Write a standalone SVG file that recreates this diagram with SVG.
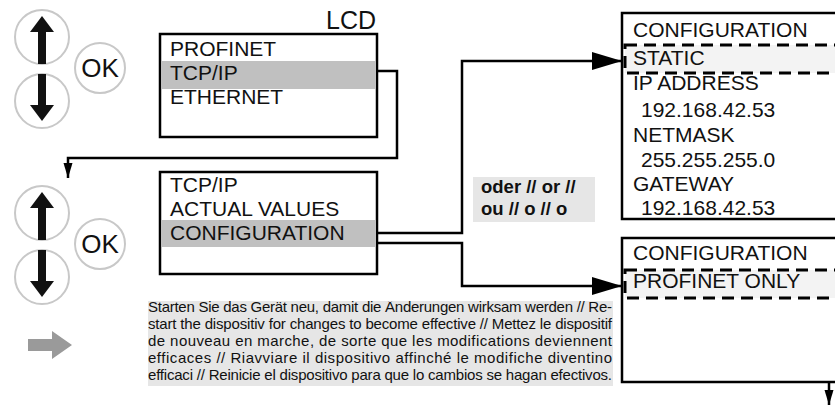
<svg xmlns="http://www.w3.org/2000/svg" width="835" height="405" viewBox="0 0 835 405">
<defs>
<style>
.btn{fill:#fff;stroke:#c8c8c8;stroke-width:2}
.box{fill:#fff;stroke:#000;stroke-width:2.5}
.hl{fill:#c0c0c0}
.dash{fill:#f3f3f3;stroke:#000;stroke-width:3;stroke-dasharray:12 7}
.t{font-family:"Liberation Sans",Arial,sans-serif;font-size:21px;fill:#111}
.ok{font-family:"Liberation Sans",Arial,sans-serif;font-size:26px;fill:#111;text-anchor:middle}
.b{font-family:"Liberation Sans",Arial,sans-serif;font-size:18.5px;font-weight:bold;fill:#111}
.p{font-family:"Liberation Sans",Arial,sans-serif;font-size:15px;fill:#111}
.conn{fill:none;stroke:#000;stroke-width:2.5}
</style>
<marker id="big" markerUnits="userSpaceOnUse" markerWidth="30" markerHeight="20" refX="30" refY="10" orient="auto">
<path d="M0,1 L30,10 L0,19 Z" fill="#000"/>
</marker>
<marker id="small" markerUnits="userSpaceOnUse" markerWidth="15" markerHeight="10" refX="15" refY="5" orient="auto">
<path d="M0,0.5 L15,5 L0,9.5 Z" fill="#000"/>
</marker>
<clipPath id="pc"><rect x="140" y="301" width="480" height="90"/></clipPath>
</defs>

<g id="buttons1">
<circle class="btn" cx="42" cy="37" r="27"/>
<path d="M42,16 L54,32 L46,32 L46,64 L38,64 L38,32 L30,32 Z" fill="#111"/>
<circle class="btn" cx="42" cy="101" r="27"/>
<path d="M38,74 L46,74 L46,105 L54,105 L42,121 L30,105 L38,105 Z" fill="#111"/>
<circle class="btn" cx="100" cy="68" r="25"/>
<text class="ok" x="100" y="77">OK</text>
</g>

<g id="buttons2">
<circle class="btn" cx="42" cy="213" r="27"/>
<path d="M42,192 L54,208 L46,208 L46,240 L38,240 L38,208 L30,208 Z" fill="#111"/>
<circle class="btn" cx="42" cy="277" r="27"/>
<path d="M38,250 L46,250 L46,281 L54,281 L42,297 L30,281 L38,281 Z" fill="#111"/>
<circle class="btn" cx="100" cy="244" r="25"/>
<text class="ok" x="100" y="253">OK</text>
</g>

<g id="lcd-label">
<text class="t" x="376" y="29" text-anchor="end" style="font-size:25px">LCD</text>
</g>

<g id="menu1">
<rect class="box" x="160" y="34" width="217" height="103"/>
<rect class="hl" x="161.5" y="61" width="214" height="28"/>
<text class="t" x="170" y="56">PROFINET</text>
<text class="t" x="170" y="80">TCP/IP</text>
<text class="t" x="170" y="104">ETHERNET</text>
</g>

<g id="menu2">
<rect class="box" x="160" y="172" width="217" height="102"/>
<rect class="hl" x="161.5" y="220" width="214" height="27"/>
<text class="t" x="170" y="192">TCP/IP</text>
<text class="t" x="170" y="216">ACTUAL VALUES</text>
<text class="t" x="170" y="240">CONFIGURATION</text>
</g>

<g id="or-label">
<rect x="473" y="177" width="122" height="45" fill="#e6e6e6"/>
<text class="b" x="481" y="193">oder // or //</text>
<text class="b" x="481" y="215">ou // o // o</text>
</g>

<g id="config-static">
<rect class="box" x="622" y="13" width="240" height="206"/>
<rect class="dash" x="625" y="45" width="240" height="28"/>
<text class="t" x="633" y="37">CONFIGURATION</text>
<text class="t" x="633" y="65">STATIC</text>
<text class="t" x="633" y="90">IP ADDRESS</text>
<text class="t" x="641" y="117">192.168.42.53</text>
<text class="t" x="633" y="142">NETMASK</text>
<text class="t" x="641" y="167">255.255.255.0</text>
<text class="t" x="633" y="191">GATEWAY</text>
<text class="t" x="641" y="215">192.168.42.53</text>
</g>

<g id="config-profinet">
<rect class="box" x="622" y="238" width="240" height="144"/>
<rect class="dash" x="625" y="270" width="240" height="28"/>
<text class="t" x="633" y="260">CONFIGURATION</text>
<text class="t" x="633" y="288">PROFINET ONLY</text>
</g>

<g id="connectors">
<path class="conn" d="M378,71 H397 V158 H68 V178" marker-end="url(#small)"/>
<path class="conn" d="M378,233 H462 V61 H622" marker-end="url(#big)"/>
<path class="conn" d="M378,243 H462 V286 H622" marker-end="url(#big)"/>
<path class="conn" d="M829,383 V405" stroke-width="2" marker-end="url(#small)"/>
</g>

<g id="note">
<path d="M28,339 H52 V331 L72,345 L52,359 V351 H28 Z" fill="#9a9a9a"/>
<rect x="148" y="301" width="465" height="85" fill="#e6e6e6"/>
<g clip-path="url(#pc)">
<text class="p" x="148" y="312" textLength="464" lengthAdjust="spacing">Starten Sie das Gerät neu, damit die Änderungen wirksam werden // Re-</text>
<text class="p" x="148" y="329" textLength="464" lengthAdjust="spacing">start the dispositiv for changes to become effective // Mettez le dispositif</text>
<text class="p" x="148" y="346" textLength="464" lengthAdjust="spacing">de nouveau en marche, de sorte que les modifications deviennent</text>
<text class="p" x="148" y="363" textLength="464" lengthAdjust="spacing">efficaces // Riavviare il dispositivo affinché le modifiche diventino</text>
<text class="p" x="148" y="380" textLength="464" lengthAdjust="spacing">efficaci // Reinicie el dispositivo para que lo cambios se hagan efectivos.</text>
</g>
</g>
</svg>
